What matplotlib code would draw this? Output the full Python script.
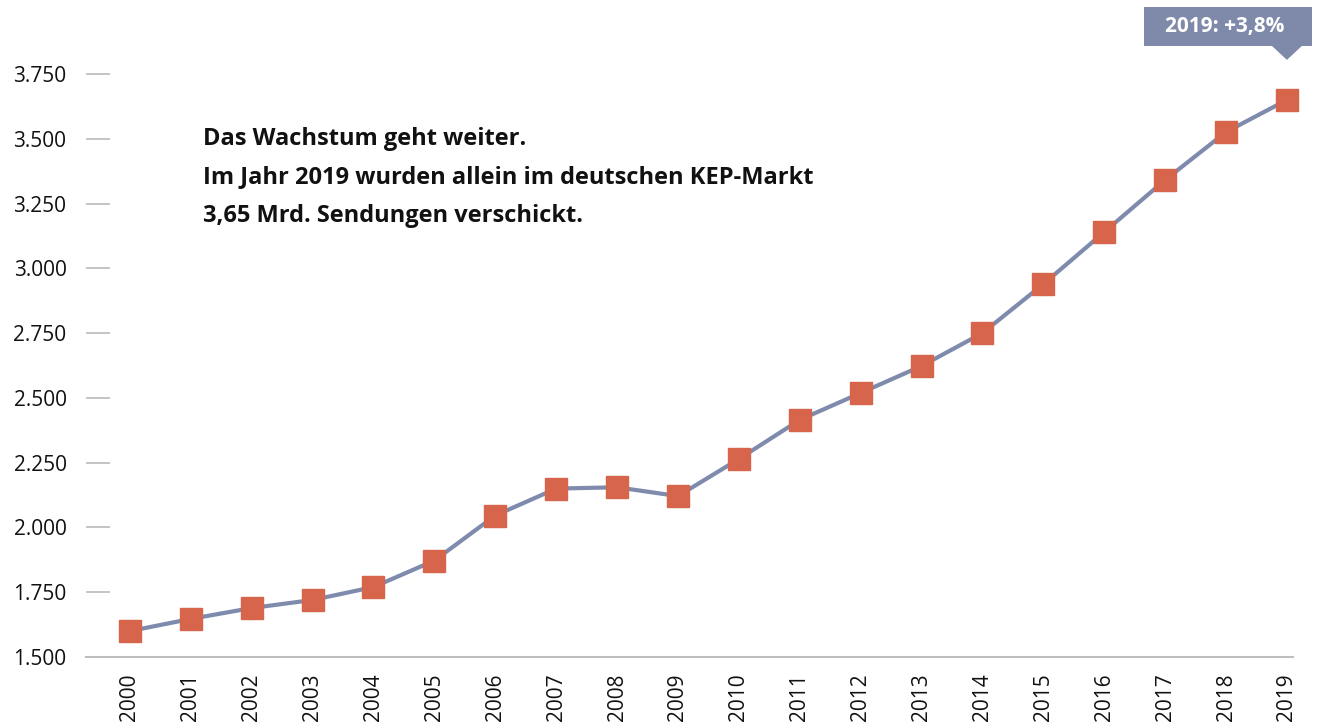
import matplotlib
matplotlib.use("Agg")
import matplotlib.pyplot as plt
from matplotlib.patches import Polygon

years = list(range(2000, 2020))
volumes = [1600, 1647, 1689, 1720, 1770, 1872, 2046, 2150, 2155, 2121,
           2264, 2415, 2519, 2623, 2750, 2939, 3140, 3341, 3526, 3650]
y_ticks = [1500, 1750, 2000, 2250, 2500, 2750, 3000, 3250, 3500, 3750]
y_tick_labels = ["1.500", "1.750", "2.000", "2.250", "2.500", "2.750",
                 "3.000", "3.250", "3.500", "3.750"]
headline = ["Das Wachstum geht weiter.",
            "Im Jahr 2019 wurden allein im deutschen KEP-Markt",
            "3,65 Mrd. Sendungen verschickt."]
callout = "2019: +3,8%"

LINE_C = "#7F8BAC"
MARK_C = "#D6654B"
BOX_C = "#7F8AAA"
FONT = ["Open Sans", "DejaVu Sans"]

plt.rcParams["font.family"] = FONT

fig = plt.figure(figsize=(13.17, 7.27), dpi=100)
ax = fig.add_axes([86/1317, 1-657/727, (1293-86)/1317, (657-74)/727])

ax.plot(years, volumes, color=LINE_C, lw=3, zorder=2,
        marker="s", markersize=16.5, markerfacecolor=MARK_C,
        markeredgecolor=MARK_C, clip_on=False)

ax.set_xlim(years[0] - 0.72, years[-1] + 0.1)
ax.set_ylim(y_ticks[0], y_ticks[-1])
ax.set_yticks(y_ticks)
ax.set_yticklabels(y_tick_labels)
ax.set_xticks(years)
ax.set_xticklabels([str(y) for y in years], rotation=90)

for s in ["top", "right", "left"]:
    ax.spines[s].set_visible(False)
ax.spines["bottom"].set_color("#BFBFBF")
ax.spines["bottom"].set_linewidth(1.5)

ax.tick_params(axis="y", direction="in", length=17, width=1.3,
               color="#BFBFBF", pad=14, labelsize=15, labelcolor="#111111")
ax.tick_params(axis="x", length=0, pad=12, labelsize=15, labelcolor="#111111")

# headline text
for i, line in enumerate(headline):
    fig.text(203/1317, 1 - (139 + i*38.5)/727, line, fontsize=17,
             fontweight="bold", va="center", ha="left", color="#111111")

# callout box anchored to last point (pixel offsets from the point)
base = ax.transData
disp = base.transform((years[-1], volumes[-1]))
inv = fig.transFigure.inverted()
def fig_pt(dx, dy):
    return inv.transform((disp[0] + dx, disp[1] + dy))

tri_pts = [(-15, 54), (15, 54), (0, 40)]
tri = Polygon([fig_pt(*p) for p in tri_pts], closed=True,
              transform=fig.transFigure, facecolor=BOX_C, edgecolor="none")
fig.patches.append(tri)
bl = fig_pt(-143, 54)
tr = fig_pt(25, 93)
box = plt.Rectangle(bl, tr[0]-bl[0], tr[1]-bl[1], transform=fig.transFigure,
                    facecolor=BOX_C, edgecolor="none")
fig.patches.append(box)
c = fig_pt(-62, 73.5)
fig.text(c[0], c[1], callout, color="white", fontsize=15, fontweight="bold",
         ha="center", va="center")

fig.savefig("out.png", dpi=100)
